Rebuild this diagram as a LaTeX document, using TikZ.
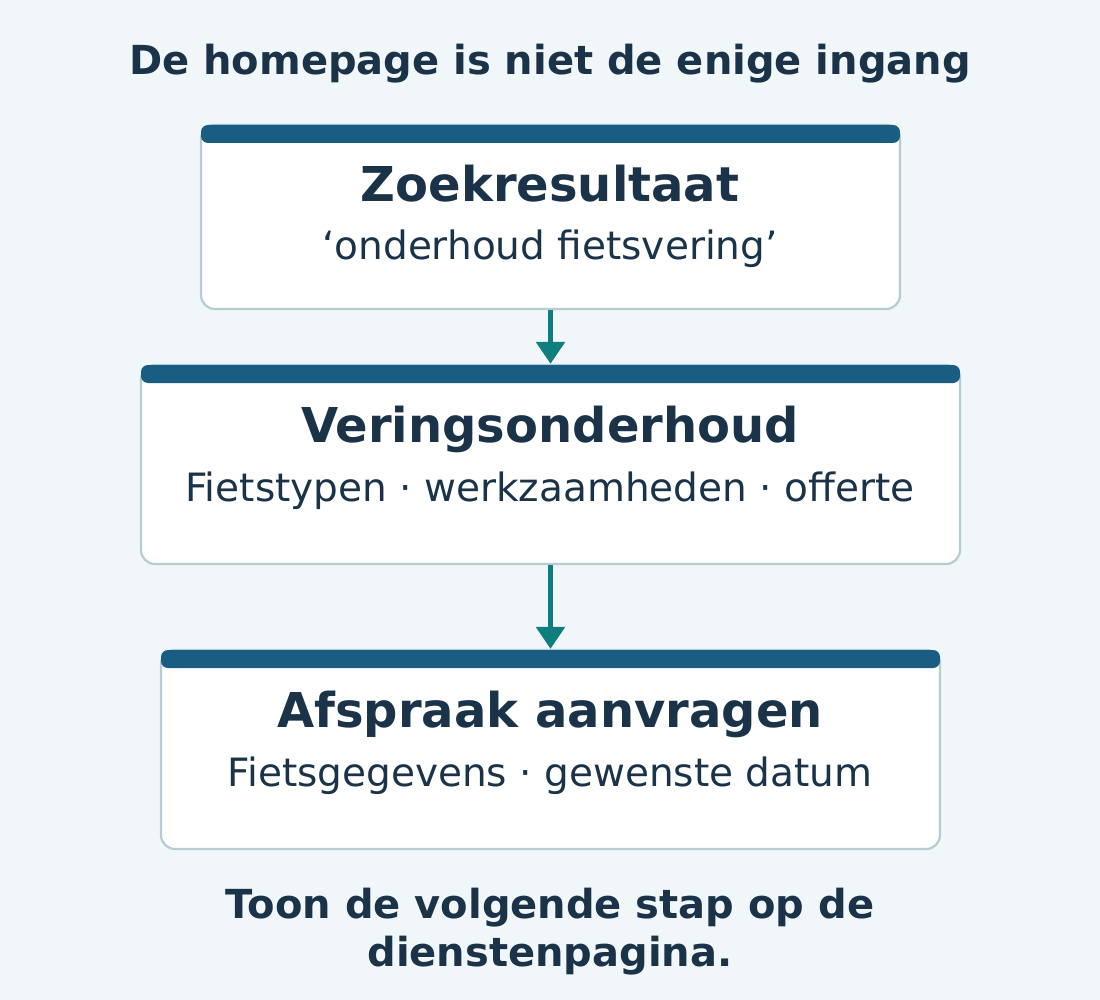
\documentclass[tikz,border=0pt]{standalone}
\usepackage{fontspec}
\setmainfont{DejaVu Sans}
\usetikzlibrary{arrows.meta}
\definecolor{bgc}{HTML}{F1F7F8}
\definecolor{ink}{HTML}{1B3349}
\definecolor{barc}{HTML}{1A5D82}
\definecolor{teal}{HTML}{0E7F7E}
\definecolor{edge}{HTML}{B7CBD3}
\tikzset{
  box/.style={draw=edge, line width=2.2pt, fill=white, rounded corners=14pt, inner sep=0pt},
  bar/.style={fill=barc, rounded corners=7pt},
  ttl/.style={anchor=base, text=ink, font=\fontsize{48}{56}\selectfont\bfseries},
  sub/.style={anchor=base, text=ink, font=\fontsize{39}{46}\selectfont},
  head/.style={anchor=base, text=ink, font=\fontsize{40}{48}\selectfont\bfseries},
  flow/.style={draw=teal, line width=5.5pt, -{Triangle[width=28pt,length=22pt]}},
}
\begin{document}
\begin{tikzpicture}[x=1pt,y=-1pt]
\fill[bgc] (0,0) rectangle (1100,1000);
\useasboundingbox (0,0) rectangle (1100,1000);
\node[head] (h) at (550,75) {De homepage is niet de enige ingang};
% box 1
\node[box, minimum width=699pt, minimum height=184pt] (b1) at (550.5,217) {};
\fill[bar] (201,125) rectangle (900,143);
\node[ttl] (t1) at (550,202) {Zoekresultaat};
\node[sub] (s1) at (550,260) {‘onderhoud fietsvering’};
% box 2
\node[box, minimum width=819pt, minimum height=199pt] (b2) at (550.5,464.5) {};
\fill[bar] (141,365) rectangle (960,383);
\node[ttl] (t2) at (550,442) {Veringsonderhoud};
\node[sub] (s2) at (550,501) {Fietstypen · werkzaamheden · offerte};
% box 3
\node[box, minimum width=779pt, minimum height=199pt] (b3) at (550.5,749.5) {};
\fill[bar] (161,650) rectangle (940,668);
\node[ttl] (t3) at (550,727) {Afspraak aanvragen};
\node[sub] (s3) at (550,786) {Fietsgegevens · gewenste datum};
% arrows
\draw[flow] (b1.south) -- (b2.north);
\draw[flow] (b2.south) -- (b3.north);
% footer
\node[head] (f1) at (550,918) {Toon de volgende stap op de};
\node[head] (f2) at (550,966) {dienstenpagina.};
\end{tikzpicture}
\end{document}
